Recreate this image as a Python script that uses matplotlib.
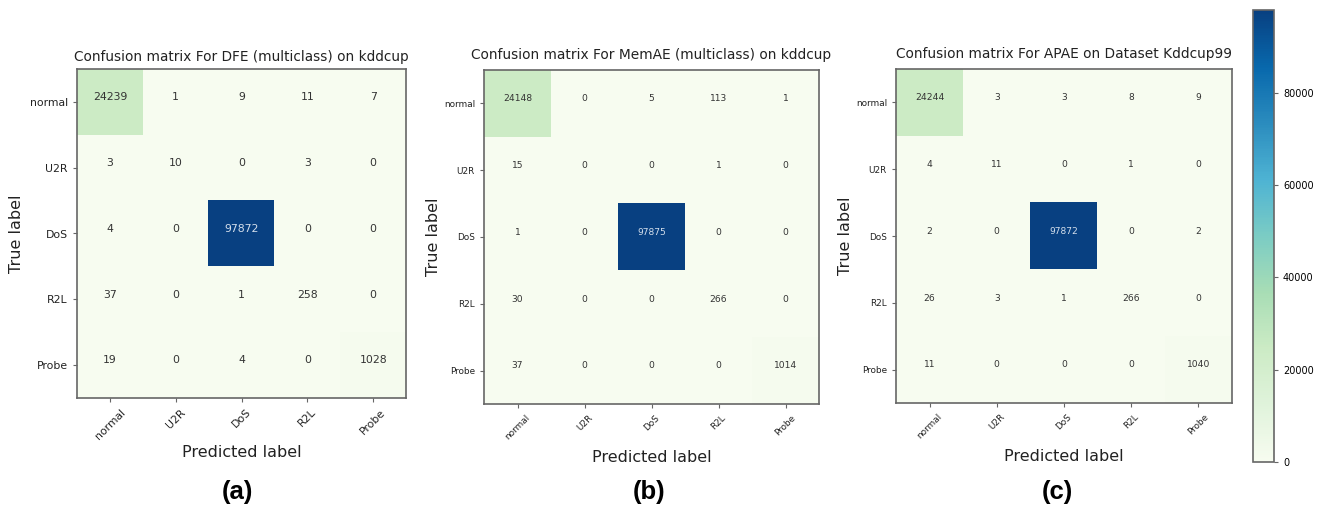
import numpy as np
import matplotlib
matplotlib.use("Agg")
import matplotlib.pyplot as plt

classes = ["normal", "U2R", "DoS", "R2L", "Probe"]

cm_dfe = np.array([[24239, 1, 9, 11, 7],
                   [3, 10, 0, 3, 0],
                   [4, 0, 97872, 0, 0],
                   [37, 0, 1, 258, 0],
                   [19, 0, 4, 0, 1028]])

cm_memae = np.array([[24148, 0, 5, 113, 1],
                     [15, 0, 0, 1, 0],
                     [1, 0, 97875, 0, 0],
                     [30, 0, 0, 266, 0],
                     [37, 0, 0, 0, 1014]])

cm_apae = np.array([[24244, 3, 3, 8, 9],
                    [4, 11, 0, 1, 0],
                    [2, 0, 97872, 0, 2],
                    [26, 3, 1, 266, 0],
                    [11, 0, 0, 0, 1040]])

titles = ["Confusion matrix For DFE (multiclass) on kddcup",
          "Confusion matrix For MemAE (multiclass) on kddcup",
          "Confusion matrix For APAE on Dataset Kddcup99"]
panel_tags = ["(a)", "(b)", "(c)"]
cbar_ticks = [0, 20000, 40000, 60000, 80000]

W, H = 1322, 507


def rect(x0, y0, x1, y1):
    # pixel box -> figure fraction
    return [x0 / W, 1 - y1 / H, (x1 - x0) / W, (y1 - y0) / H]


# pixel boxes and font sizes per panel
boxes = [(77, 69, 406, 398), (484, 70, 819, 404), (896, 69, 1232, 403)]
tick_fs = [7.8, 6.4, 6.4]
cell_fs = [7.8, 6.6, 6.6]
title_fs = [9.8, 9.9, 9.9]
title_pad = [5.5, 8.0, 8.0]
ylab_x = [-0.160, -0.128, -0.128]
xlab_y = [-0.143, -0.137, -0.137]
tag_x = [237, 649, 1057]

fig = plt.figure(figsize=(W / 100, H / 100), dpi=100)
cmap = plt.get_cmap("GnBu")
spine_col = "#666666"

for i, cm in enumerate([cm_dfe, cm_memae, cm_apae]):
    ax = fig.add_axes(rect(*boxes[i]))
    im = ax.imshow(cm, interpolation="nearest", cmap=cmap, aspect="auto")
    ax.set_title(titles[i], fontsize=title_fs[i], pad=title_pad[i], color="#222222")
    ticks = np.arange(len(classes))
    ax.set_xticks(ticks)
    ax.set_xticklabels(classes, rotation=45, fontsize=tick_fs[i], color="#222222")
    ax.set_yticks(ticks)
    ax.set_yticklabels(classes, fontsize=tick_fs[i], color="#222222")
    ax.tick_params(length=3, color=spine_col)
    for s in ax.spines.values():
        s.set_color(spine_col)
        s.set_linewidth(1.2)
    thresh = cm.max() / 2.0
    for r in range(cm.shape[0]):
        for c in range(cm.shape[1]):
            ax.text(c, r - 0.07, str(cm[r, c]), ha="center", va="center",
                    fontsize=cell_fs[i],
                    color="#d3deeb" if cm[r, c] > thresh else "#333333")
    ax.set_ylabel("True label", fontsize=11.5, color="#222222")
    ax.yaxis.set_label_coords(ylab_x[i], 0.5)
    ax.set_xlabel("Predicted label", fontsize=11.5, color="#222222")
    ax.xaxis.set_label_coords(0.5, xlab_y[i])
    fig.text(tag_x[i] / W, 1 - 492 / H, panel_tags[i], ha="center", va="center",
             fontsize=18.5, fontweight="bold", family="Liberation Sans")

cax = fig.add_axes(rect(1253, 10, 1274, 462))
cb = fig.colorbar(im, cax=cax, ticks=cbar_ticks)
cb.ax.tick_params(labelsize=7, length=3, color=spine_col)
cb.outline.set_edgecolor(spine_col)
cb.outline.set_linewidth(1.2)

fig.savefig("out.png", dpi=100)
